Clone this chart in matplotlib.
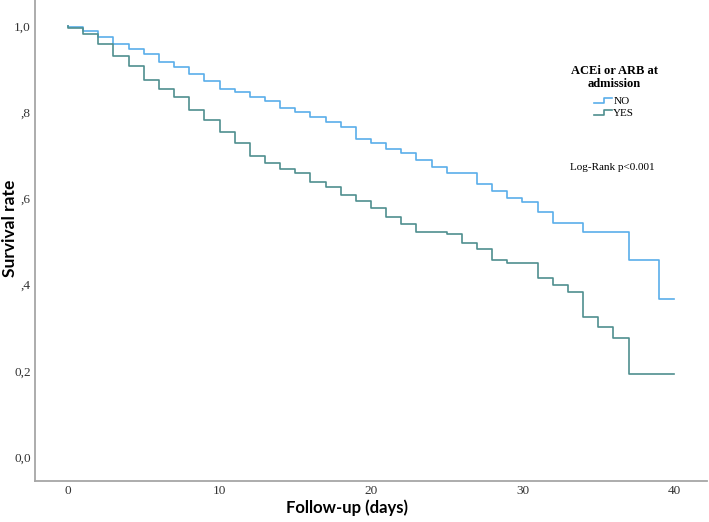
import matplotlib.pyplot as plt
from matplotlib.lines import Line2D
from matplotlib.legend_handler import HandlerBase
from matplotlib.ticker import FixedLocator, FixedFormatter

# Kaplan-Meier steps (day, survival)
days_no = [0, 0, 1, 2, 3, 4, 5, 6, 7, 8, 9, 10, 11, 12, 13, 14, 15, 16, 17, 18,
           19, 20, 21, 22, 23, 24, 25, 27, 28, 29, 30, 31, 32, 34, 37, 39]
surv_no = [1.0, 0.998, 0.988, 0.974, 0.959, 0.946, 0.934, 0.916, 0.904, 0.889,
           0.873, 0.854, 0.847, 0.835, 0.826, 0.810, 0.800, 0.789, 0.777, 0.766,
           0.738, 0.728, 0.715, 0.705, 0.689, 0.673, 0.659, 0.633, 0.617, 0.601,
           0.592, 0.568, 0.543, 0.522, 0.457, 0.367]

days_yes = [0, 0, 1, 2, 3, 4, 5, 6, 7, 8, 9, 10, 11, 12, 13, 14, 15, 16, 17, 18,
            19, 20, 21, 22, 23, 25, 26, 27, 28, 29, 31, 32, 33, 34, 35, 36, 37]
surv_yes = [1.0, 0.996, 0.981, 0.959, 0.930, 0.907, 0.875, 0.853, 0.835, 0.805,
            0.782, 0.754, 0.728, 0.698, 0.682, 0.668, 0.659, 0.638, 0.627, 0.608,
            0.594, 0.578, 0.557, 0.541, 0.522, 0.517, 0.497, 0.483, 0.457, 0.450,
            0.415, 0.399, 0.383, 0.325, 0.302, 0.276, 0.193]

end_day = 40
groups = ["NO", "YES"]
colors = ["#5aaeea", "#4f8f8f"]

x_ticks = [0, 10, 20, 30, 40]
y_ticks = [0.0, 0.2, 0.4, 0.6, 0.8, 1.0]
y_tick_labels = ["0,0", "0,2", ",4", ",6", ",8", "1,0"]

SERIF = "Liberation Serif"
SANS = "Lato"


class StepHandler(HandlerBase):
    # small step-shaped legend key, like SPSS draws it
    def create_artists(self, legend, orig_handle, xdescent, ydescent,
                       width, height, fontsize, trans):
        lo = height * 0.15 - ydescent
        hi = height * 0.75 - ydescent
        xs = [-xdescent, -xdescent + width * 0.55, -xdescent + width * 0.55, -xdescent + width]
        ys = [lo, lo, hi, hi]
        ln = Line2D(xs, ys, color=orig_handle.get_color(),
                    linewidth=orig_handle.get_linewidth(), transform=trans)
        return [ln]


fig = plt.figure(figsize=(7.09, 5.22), dpi=100)
ax = fig.add_axes([35 / 709, 41 / 522, (707 - 35) / 709, 481 / 522])

handles = []
for days, surv, col, name in [(days_no, surv_no, colors[0], groups[0]),
                              (days_yes, surv_yes, colors[1], groups[1])]:
    xs = days + [end_day]
    ys = surv + [surv[-1]]
    h, = ax.step(xs, ys, where="post", color=col, linewidth=1.2, label=name)
    handles.append(h)

ax.set_xlim(-2.18, 42.18)
ax.set_ylim(-0.0557, 1.0603)

ax.xaxis.set_major_locator(FixedLocator(x_ticks))
ax.yaxis.set_major_locator(FixedLocator(y_ticks))
ax.yaxis.set_major_formatter(FixedFormatter(y_tick_labels))
ax.tick_params(length=0, labelsize=9.5, colors="#333333")
ax.tick_params(axis="x", pad=3)
ax.tick_params(axis="y", pad=3)
for lab in ax.get_xticklabels() + ax.get_yticklabels():
    lab.set_fontfamily(SERIF)

for side in ["top", "right"]:
    ax.spines[side].set_visible(False)
for side in ["left", "bottom"]:
    ax.spines[side].set_color("#a6a6a6")
    ax.spines[side].set_linewidth(1.3)

ax.set_xlabel("Follow-up (days)", fontsize=12, fontweight="bold", family=SANS)
ax.set_ylabel("Survival rate", fontsize=12.5, fontweight="bold", family=SANS)
ax.xaxis.set_label_coords((347 - 35) / 672, -(499 - 481) / 481)
ax.yaxis.set_label_coords(-(35 - 18) / 672, (481 - 228) / 481)

leg = ax.legend(handles=handles, labels=groups,
                handler_map={Line2D: StepHandler()},
                title="ACEi or ARB at\nadmission",
                loc="upper left", bbox_to_anchor=(565 / 709, 1 - 59 / 522),
                bbox_transform=fig.transFigure,
                frameon=False, borderpad=0, handlelength=1.6, handletextpad=0.15,
                labelspacing=0.2,
                prop={"family": SERIF, "size": 8},
                title_fontproperties={"family": SERIF, "size": 9, "weight": "bold"})
leg.get_title().set_multialignment("center")
leg._legend_box.sep = 4

ax.text(612 / 709, 1 - 168 / 522, "Log-Rank p<0.001", transform=fig.transFigure,
        ha="center", va="center", family=SERIF, fontsize=8)

fig.savefig("out.png", dpi=100)
